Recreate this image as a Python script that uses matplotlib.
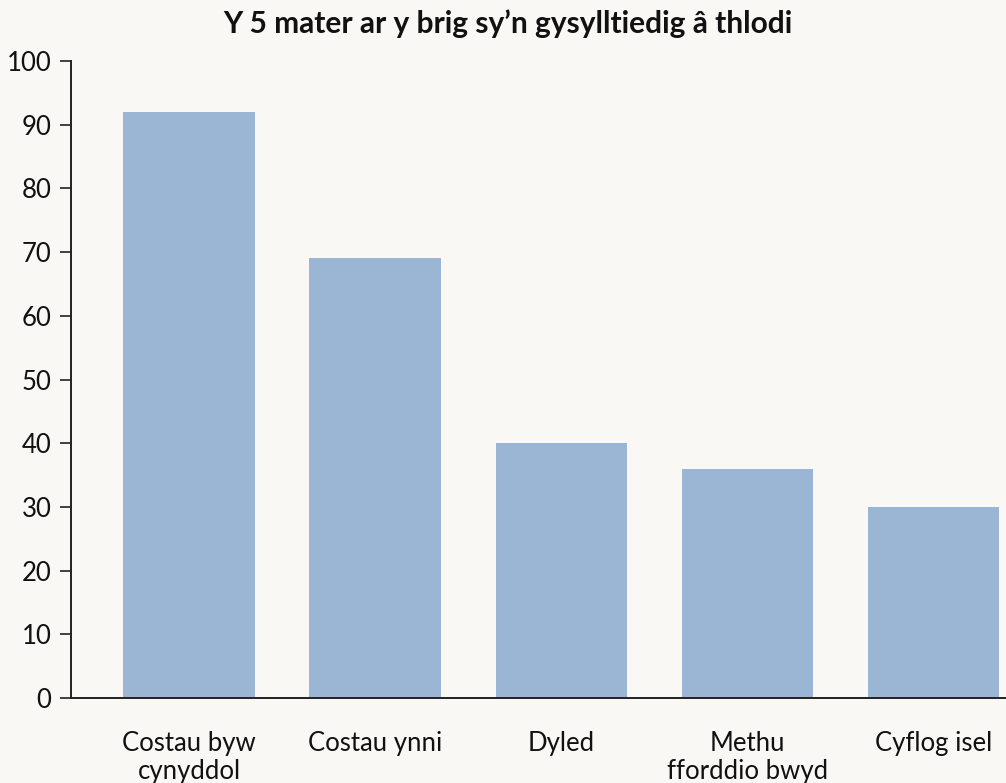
import matplotlib
matplotlib.use("Agg")
import matplotlib.pyplot as plt

categories = ["Costau byw\ncynyddol", "Costau ynni", "Dyled", "Methu\nfforddio bwyd", "Cyflog isel"]
values = [92, 69, 40, 36, 30]
yticks = [0, 10, 20, 30, 40, 50, 60, 70, 80, 90, 100]

bg = "#F9F8F5"
bar_color = "#9BB5D4"
plt.rcParams['font.family'] = ['Lato', 'DejaVu Sans']

fig = plt.figure(figsize=(10.06, 7.83), dpi=100, facecolor=bg)
ax = fig.add_axes([71/1006, 1 - 698/783, 1 - 71/1006, (698 - 61)/783])
ax.set_facecolor(bg)

x = list(range(len(categories)))
ax.bar(x, values, width=0.705, color=bar_color, zorder=2)

ax.set_xlim(-0.634, 4.39)
ax.set_ylim(0, 100)
ax.set_yticks(yticks)
ax.set_yticklabels([str(t) for t in yticks], fontsize=18.5, color="#111111")
ax.set_xticks(x)
ax.set_xticklabels(categories, fontsize=18.5, color="#111111", linespacing=1.15)
ax.tick_params(axis='x', length=0, pad=24)
ax.tick_params(axis='y', length=8, width=1.2, color="#222222", pad=6, direction='out')

for s in ['top', 'right']:
    ax.spines[s].set_visible(False)
for s in ['left', 'bottom']:
    ax.spines[s].set_color("#222222")
    ax.spines[s].set_linewidth(1.4)

fig.text(508/1006, 1 - 24/783, "Y 5 mater ar y brig sy\u2019n gysylltiedig â thlodi",
         ha='center', va='center', fontsize=21.5, fontweight='bold', color="#111111")

fig.savefig("out.png", dpi=100, facecolor=bg)
